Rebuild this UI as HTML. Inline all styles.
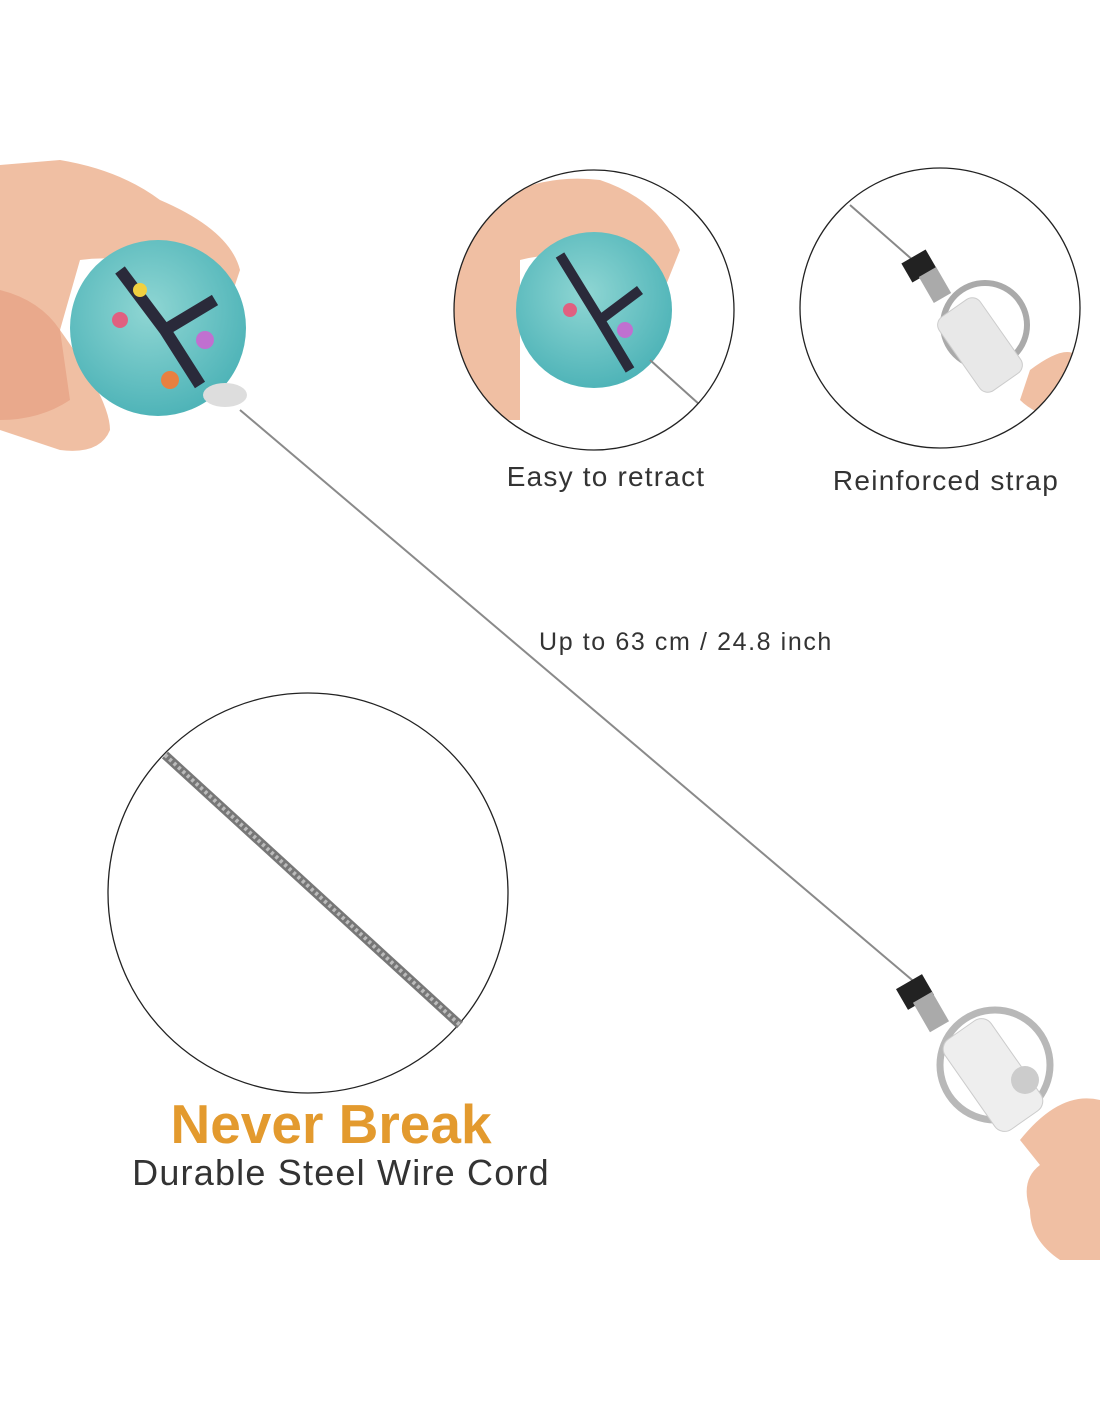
<!DOCTYPE html>
<html><head><meta charset="utf-8"><style>
html,body{margin:0;padding:0;background:#fff;}
body{width:1100px;height:1422px;position:relative;overflow:hidden;font-family:"Liberation Sans",sans-serif;}
.t{position:absolute;color:#333;white-space:nowrap;transform:translateX(-50%);}
</style></head><body>
<svg width="1100" height="1422" style="position:absolute;left:0;top:0">
<defs>
<radialGradient id="badge" cx="0.45" cy="0.4" r="0.6"><stop offset="0" stop-color="#8fd6d3"/><stop offset="1" stop-color="#4fb4b8"/></radialGradient>
<clipPath id="c1"><circle cx="594" cy="310" r="140"/></clipPath>
<clipPath id="c2"><circle cx="940" cy="308" r="140"/></clipPath>
</defs>
<line x1="240" y1="410" x2="918" y2="985" stroke="#8a8a8a" stroke-width="2"/>
<path d="M0 165 L60 160 Q120 170 160 200 Q230 230 240 270 L230 300 Q150 250 80 260 L60 330 Q110 400 110 430 Q100 455 60 450 L0 430 Z" fill="#f0bfa3"/>
<path d="M0 290 Q40 300 60 330 L70 400 Q40 420 0 420 Z" fill="#e9a98c"/>
<circle cx="158" cy="328" r="88" fill="url(#badge)"/>
<path d="M120 270 L165 330 L200 385 M165 330 L215 300" stroke="#2a2a3a" stroke-width="12" fill="none"/>
<circle cx="120" cy="320" r="8" fill="#e06080"/><circle cx="205" cy="340" r="9" fill="#c070d0"/><circle cx="170" cy="380" r="9" fill="#e88040"/><circle cx="140" cy="290" r="7" fill="#f0d040"/>
<ellipse cx="225" cy="395" rx="22" ry="12" fill="#ddd"/>
<g clip-path="url(#c1)">
<path d="M454 230 Q520 170 600 180 Q660 200 680 250 L660 300 Q600 240 520 260 L520 420 L454 420 Z" fill="#f0bfa3"/>
<circle cx="594" cy="310" r="78" fill="url(#badge)"/>
<path d="M560 255 L600 320 L630 370 M600 320 L640 290" stroke="#2a2a3a" stroke-width="10" fill="none"/>
<circle cx="570" cy="310" r="7" fill="#e06080"/><circle cx="625" cy="330" r="8" fill="#c070d0"/>
<line x1="650" y1="360" x2="700" y2="405" stroke="#888" stroke-width="2"/>
</g>
<circle cx="594" cy="310" r="140" fill="none" stroke="#222" stroke-width="1.3"/>
<g clip-path="url(#c2)">
<line x1="850" y1="205" x2="915" y2="262" stroke="#888" stroke-width="2"/>
<rect x="905" y="255" width="28" height="22" fill="#222" transform="rotate(-30 919 266)"/>
<rect x="925" y="270" width="20" height="30" fill="#aaa" transform="rotate(-30 935 285)"/>
<circle cx="985" cy="325" r="42" fill="none" stroke="#aaa" stroke-width="6"/>
<rect x="955" y="300" width="50" height="90" rx="10" fill="#e8e8e8" stroke="#ccc" transform="rotate(-35 980 345)"/>
<path d="M1030 370 Q1070 340 1080 360 L1080 420 Q1040 420 1020 400 Z" fill="#f0bfa3"/>
</g>
<circle cx="940" cy="308" r="140" fill="none" stroke="#222" stroke-width="1.3"/>
<circle cx="308" cy="893" r="200" fill="#fff" stroke="#222" stroke-width="1.3"/>
<line x1="165" y1="755" x2="460" y2="1025" stroke="#777" stroke-width="9"/>
<line x1="165" y1="755" x2="460" y2="1025" stroke="#bbb" stroke-width="4" stroke-dasharray="3 3"/>
<rect x="900" y="980" width="30" height="24" fill="#222" transform="rotate(-30 915 992)"/>
<rect x="920" y="995" width="22" height="34" fill="#aaa" transform="rotate(-30 931 1012)"/>
<circle cx="995" cy="1065" r="55" fill="none" stroke="#b8b8b8" stroke-width="7"/>
<rect x="965" y="1020" width="56" height="110" rx="12" fill="#eee" stroke="#ccc" transform="rotate(-35 993 1075)"/>
<circle cx="1025" cy="1080" r="14" fill="#ccc"/>
<path d="M1020 1140 Q1060 1090 1100 1100 L1100 1260 L1060 1260 Q1030 1240 1030 1210 Q1020 1180 1040 1165 Z" fill="#f0bfa3"/>
</svg>
<div class="t" style="left:606px;top:461px;font-size:28px;letter-spacing:1.2px;">Easy to retract</div>
<div class="t" style="left:946px;top:465px;font-size:28px;letter-spacing:1.3px;">Reinforced strap</div>
<div class="t" style="left:686px;top:628px;font-size:25px;letter-spacing:1.6px;">Up to 63 cm / 24.8 inch</div>
<div class="t" style="left:331px;top:1092px;font-size:55px;font-weight:bold;color:#e39a2e;">Never Break</div>
<div class="t" style="left:341px;top:1152px;font-size:36px;letter-spacing:1.2px;">Durable Steel Wire Cord</div>
</body></html>
